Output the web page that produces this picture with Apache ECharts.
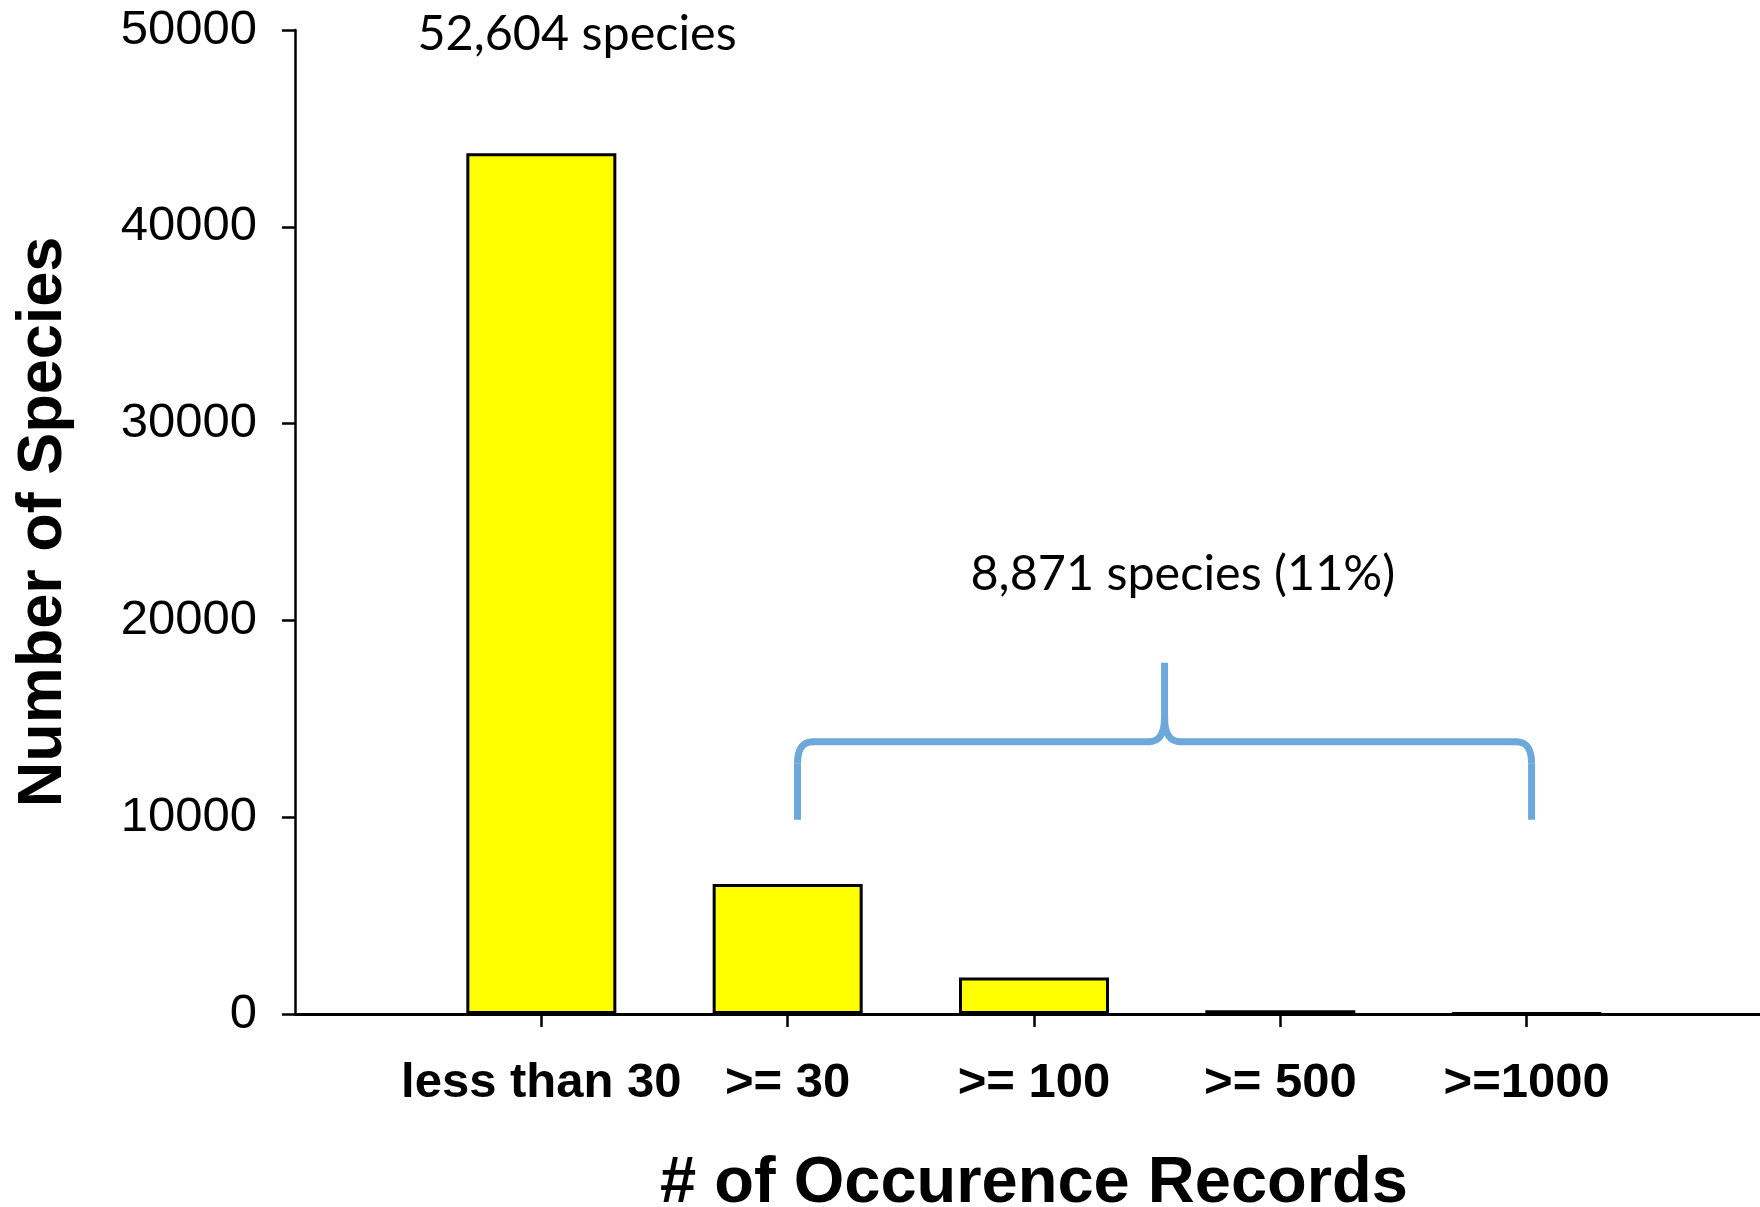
<!DOCTYPE html>
<html>
<head>
<meta charset="utf-8">
<script src="https://cdn.jsdelivr.net/npm/echarts@6/dist/echarts.min.js"></script>
<style>
html,body{margin:0;padding:0;background:#ffffff;}
#chart{width:1760px;height:1207px;}
</style>
</head>
<body>
<div id="chart"></div>
<script>
// ---- data ----
const categories = ['less than 30', '>= 30', '>= 100', '>= 500', '>=1000'];
const speciesCounts = [43733, 6600, 1850, 190, 40];
const yTickValues = [0, 10000, 20000, 30000, 40000, 50000];
const totalLabel = '52,604 species';
const subsetLabel = '8,871 species (11%)';
const xAxisTitle = '# of Occurence Records';
const yAxisTitle = 'Number of Species';

// padded category list: empty slot at the origin and one past the end
const xData = [''].concat(categories, ['']);
const barData = ['-'].concat(speciesCounts, ['-']);

const chart = echarts.init(document.getElementById('chart'), null, {renderer: 'canvas'});

const axisFont = '"Liberation Sans", Arial, sans-serif';
const noteFont = 'Lato, "Open Sans", sans-serif';

const option = {
  animation: false,
  backgroundColor: '#ffffff',
  grid: {left: 295, top: 30, width: 1478, height: 984, containLabel: false, outerBoundsMode: 'none'},
  xAxis: {
    type: 'category',
    data: xData,
    boundaryGap: false,
    name: xAxisTitle,
    nameLocation: 'middle',
    nameGap: 138,
    nameTextStyle: {fontFamily: axisFont, fontWeight: 'bold', fontSize: 65, color: '#000'},
    axisLine: {show: true, onZero: true, lineStyle: {color: '#000', width: 3}},
    axisTick: {show: true, length: 13, lineStyle: {color: '#000', width: 2.5},
      interval: function (i) { return i > 0 && i < xData.length - 1; }},
    axisLabel: {interval: 0, margin: 45, fontFamily: axisFont, fontWeight: 'bold', fontSize: 49, color: '#000'},
    splitLine: {show: false}
  },
  yAxis: {
    type: 'value',
    min: yTickValues[0],
    max: yTickValues[yTickValues.length - 1],
    interval: yTickValues[1] - yTickValues[0],
    name: yAxisTitle,
    nameLocation: 'middle',
    nameRotate: 90,
    nameGap: 220,
    nameTextStyle: {fontFamily: axisFont, fontWeight: 'bold', fontSize: 63, color: '#000'},
    axisLine: {show: true, lineStyle: {color: '#000', width: 2.5}},
    axisTick: {show: true, length: 13, lineStyle: {color: '#000', width: 2.5}},
    axisLabel: {margin: 38, fontFamily: axisFont, fontSize: 49, color: '#000',
      formatter: function (v) { return String(v); }},
    splitLine: {show: false}
  },
  series: [{
    type: 'bar',
    data: barData,
    barWidth: 150,
    itemStyle: {color: '#FFFF00', borderColor: '#000000', borderWidth: 3}
  }]
};
chart.setOption(option);

// ---- annotations placed in data space ----
function px(xIdx, yVal) {
  const x0 = chart.convertToPixel({xAxisIndex: 0}, 0);
  const x1 = chart.convertToPixel({xAxisIndex: 0}, xData.length - 1);
  const x = x0 + (x1 - x0) * xIdx / (xData.length - 1);
  const y = chart.convertToPixel({yAxisIndex: 0}, yVal);
  return [x, y];
}

const braceLeft = 2.04, braceRight = 5.02, braceMid = 3.53;
const braceBottom = 9870, braceBar = 13835, braceTip = 17850;

const bl = px(braceLeft, braceBottom);
const bh = px(braceLeft, braceBar);
const br = px(braceRight, braceBottom);
const bm = px(braceMid, braceTip);
const xl = bl[0], xr = br[0], xm = bm[0], yb = bl[1], yh = bh[1], yt = bm[1];

const braceStyle = {stroke: '#6CA8DA', lineWidth: 7, fill: null, lineCap: 'butt'};
function seg(x1, y1, x2, y2) {
  return {type: 'line', silent: true, shape: {x1: x1, y1: y1, x2: x2, y2: y2}, style: braceStyle};
}
function curve(x1, y1, c1x, c1y, c2x, c2y, x2, y2) {
  return {type: 'bezierCurve', silent: true,
    shape: {x1: x1, y1: y1, cpx1: c1x, cpy1: c1y, cpx2: c2x, cpy2: c2y, x2: x2, y2: y2},
    style: braceStyle};
}

const braceParts = [
  seg(xl, yb, xl, yh + 22),
  curve(xl, yh + 22, xl, yh + 8, xl + 4, yh, xl + 16, yh),
  seg(xl + 15, yh, xm - 15, yh),
  curve(xm - 16, yh, xm - 5, yh, xm, yh - 8, xm, yh - 25),
  seg(xm, yh - 24, xm, yt),
  curve(xm, yh - 25, xm, yh - 8, xm + 5, yh, xm + 16, yh),
  seg(xm + 15, yh, xr - 15, yh),
  curve(xr - 16, yh, xr - 4, yh, xr, yh + 8, xr, yh + 22),
  seg(xr, yh + 22, xr, yb)
];

const t1 = px(1.145, 49796);
const t2 = px(3.604, 22330);

chart.setOption({
  graphic: braceParts.concat([
    {
      type: 'text', x: t1[0], y: t1[1], silent: true,
      style: {text: totalLabel, fill: '#000', font: '48.5px ' + noteFont, align: 'center', verticalAlign: 'middle'}
    },
    {
      type: 'text', x: t2[0], y: t2[1], silent: true,
      style: {text: subsetLabel, fill: '#000', font: '48.5px ' + noteFont, align: 'center', verticalAlign: 'middle'}
    }
  ])
});
</script>
</body>
</html>
